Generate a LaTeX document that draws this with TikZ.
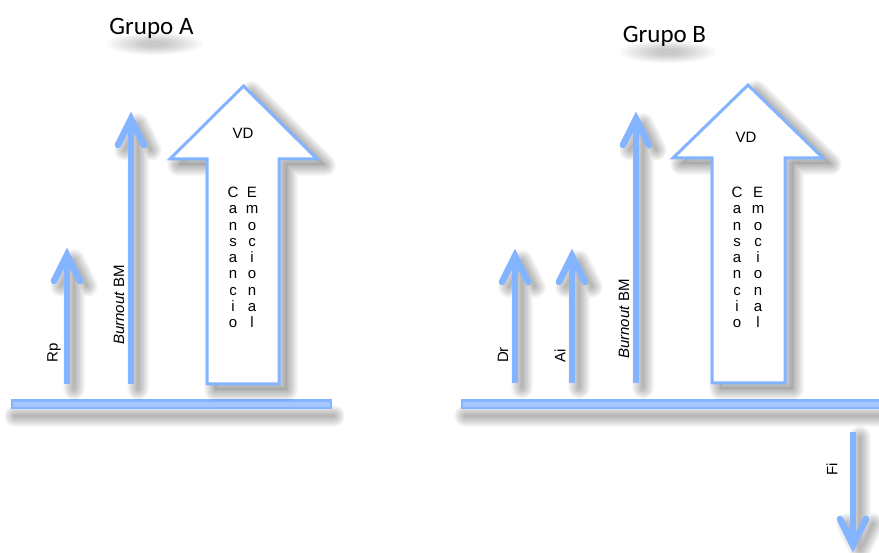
\documentclass[tikz,border=0pt]{standalone}
\usepackage{fontspec}
\setmainfont{Liberation Sans}
\newfontfamily\titlefont{Carlito}
\definecolor{ablue}{RGB}{130,180,255}
\definecolor{lblue}{RGB}{165,198,255}
\newcommand\blurpath[2]{%
  \foreach \w in {2,4,...,22}{\draw[line width=\w pt, black, opacity=0.026, line cap=round, line join=round, shift={#1}] #2;}}
\newcommand\uparr[3]{% x, bottom, apex
  \blurpath{(7,5)}{(#1,#2) -- (#1,#3) (#1-13,#3+26) -- (#1,#3) -- (#1+13,#3+26)}
  \draw[thinarrow] (#1,#2) -- (#1,#3);
  \draw[thinarrow, line cap=round, line join=miter] (#1-13,#3+26) -- (#1,#3) -- (#1+13,#3+26);}
\newcommand\bigarr[6]{% shaftL, shaftR, bottom, headbase, headL, headR
  \blurpath{(8,6)}{(#1,#3) -- (#1,#4) -- (#5,#4) -- ({(#5+#6)/2},#4-73) -- (#6,#4) -- (#2,#4) -- (#2,#3) -- cycle}
  \fill[black, opacity=0.08, shift={(8,6)}] (#1,#3) -- (#1,#4) -- (#5,#4) -- ({(#5+#6)/2},#4-73) -- (#6,#4) -- (#2,#4) -- (#2,#3) -- cycle;
  \draw[bigarrow] (#1,#3) -- (#1,#4) -- (#5,#4) -- ({(#5+#6)/2},#4-73) -- (#6,#4) -- (#2,#4) -- (#2,#3) -- cycle;}
\newcommand\titleshadow[2]{%
  \foreach \i in {0,...,7}{\fill[black, opacity=0.028] (#1,#2) ellipse ({48-5*\i} and {11-1.1*\i});}}
\tikzset{
  thinarrow/.style={draw=ablue, line width=6.5pt},
  bigarrow/.style={draw=ablue, line width=3pt, fill=white, line join=miter},
  lbl/.style={font=\fontsize{15}{18}\selectfont, rotate=90, inner sep=0pt},
  col/.style={font=\fontsize{15}{16.25}\selectfont, align=center, anchor=north, inner sep=0pt},
  vd/.style={font=\fontsize{15}{18}\selectfont, inner sep=0pt},
  grp/.style={font=\titlefont\fontsize{25}{29}\selectfont, anchor=base, inner sep=0pt},
  baseln/.style={draw=ablue, line width=2.6pt, fill=lblue}
}
\begin{document}
\begin{tikzpicture}[x=1pt,y=-1pt]
\useasboundingbox (0,0) rectangle (879,553);
\fill[white] (0,0) rectangle (879,553);

% ---------------- Grupo A ----------------
\titleshadow{155}{44}
\node[grp] (tA) at (151.5,35) {Grupo A};

\blurpath{(3,12)}{(12,404) -- (331,404)}
\draw[baseln] (12,400.5) rectangle (331,408);

\uparr{67}{384}{255}
\uparr{131}{384}{119}
\bigarr{207}{279}{384}{159}{170}{317}

\node[lbl] (rp) at (54,353) {Rp};
\node[lbl] (bmA) at (119,305) {\textit{Burnout} BM};
\node[vd] (vdA) at (243,133.5) {VD};
\node[col] (cA) at (233,187) {C\\a\\n\\s\\a\\n\\c\\i\\o};
\node[col] (eA) at (252,187) {E\\m\\o\\c\\i\\o\\n\\a\\l};

% ---------------- Grupo B ----------------
\titleshadow{668}{52}
\node[grp] (tB) at (664.5,43) {Grupo B};

\blurpath{(3,12)}{(462,404) -- (885,404)}
\draw[baseln] (462,400.5) rectangle (885,408);

\uparr{515}{383}{256}
\uparr{572}{383}{256}
\uparr{636}{383}{119}
\bigarr{712}{785}{383}{158}{673}{823}

\node[lbl] (dr) at (503,355) {Dr};
\node[lbl] (ai) at (560,356) {Ai};
\node[lbl] (bmB) at (624,319) {\textit{Burnout} BM};
\node[vd] (vdB) at (746,137.5) {VD};
\node[col] (cB) at (737,187) {C\\a\\n\\s\\a\\n\\c\\i\\o};
\node[col] (eB) at (758,187) {E\\m\\o\\c\\i\\o\\n\\a\\l};

% Fi arrow (down)
\blurpath{(7,5)}{(853,432) -- (853,545) (840,519) -- (853,545) -- (866,519)}
\draw[thinarrow] (853,432) -- (853,545);
\draw[thinarrow, line cap=round, line join=miter] (840,519) -- (853,545) -- (866,519);
\node[lbl] (fi) at (832,469) {Fi};
\end{tikzpicture}
\end{document}
